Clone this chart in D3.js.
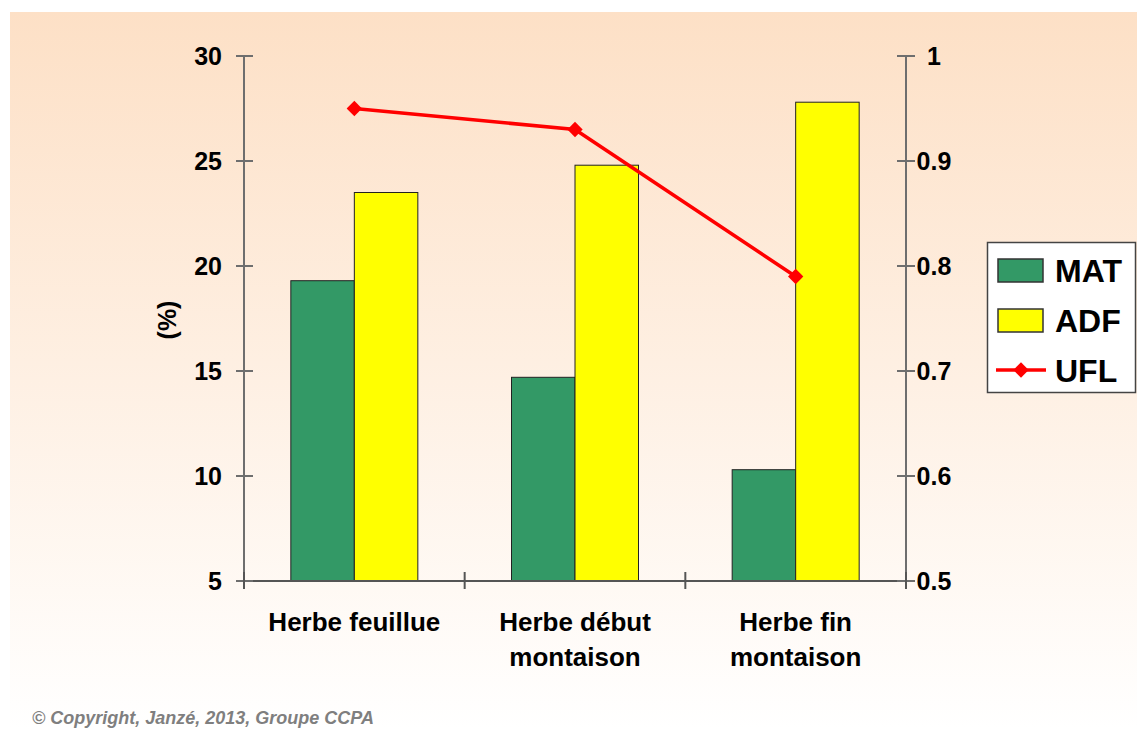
<!DOCTYPE html>
<html>
<head>
<meta charset="utf-8">
<script src="https://cdn.jsdelivr.net/npm/d3@7"></script>
<style>
  body { margin: 0; }
  text { font-family: "Liberation Sans", Arial, sans-serif; font-weight: bold; }
</style>
</head>
<body>
<script>
var categories = [ ["Herbe feuillue"], ["Herbe début", "montaison"], ["Herbe fin", "montaison"] ];
var matValues = [ 19.3, 14.7, 10.3 ];
var adfValues = [ 23.5, 24.8, 27.8 ];
var uflValues = [ 0.95, 0.93, 0.79 ];
var leftTicks = [ 5, 10, 15, 20, 25, 30 ];
var rightTicks = [ 0.5, 0.6, 0.7, 0.8, 0.9, 1 ];

var W = 1137, H = 729;
var plotL = 244, plotR = 906, plotT = 56, plotB = 581;

var svg = d3.select( "body" ).append( "svg" )
  .attr( "width", W )
  .attr( "height", H );

// background: white page, peach -> white gradient panel
svg.append( "rect" ).attr( "width", W ).attr( "height", H ).attr( "fill", "#ffffff" );
var grad = svg.append( "defs" ).append( "linearGradient" )
  .attr( "id", "bg" ).attr( "x1", 0 ).attr( "y1", 0 ).attr( "x2", 0 ).attr( "y2", 1 );
grad.append( "stop" ).attr( "offset", "0%" ).attr( "stop-color", "#fde0c6" );
grad.append( "stop" ).attr( "offset", "100%" ).attr( "stop-color", "#ffffff" );
svg.append( "rect" ).attr( "x", 10 ).attr( "y", 12 )
  .attr( "width", W - 10 ).attr( "height", H - 12 ).attr( "fill", "url(#bg)" );

var idx = d3.range( categories.length );
var x = d3.scaleBand().domain( idx ).range( [ plotL, plotR ] ).paddingInner( 0 ).paddingOuter( 0 );
var yL = d3.scaleLinear().domain( [ 5, 30 ] ).range( [ plotB, plotT ] );
var yR = d3.scaleLinear().domain( [ 0.5, 1 ] ).range( [ plotB, plotT ] );
var barW = 63.5;

// bars
svg.selectAll( "rect.mat" )
  .data( matValues )
  .enter().append( "rect" )
  .attr( "class", "mat" )
  .attr( "x", function ( d, i ) { return x( i ) + x.bandwidth() / 2 - barW; } )
  .attr( "y", function ( d ) { return yL( d ); } )
  .attr( "width", barW )
  .attr( "height", function ( d ) { return plotB - yL( d ); } )
  .attr( "fill", "#339966" )
  .attr( "stroke", "#222" )
  .attr( "stroke-width", 1 );

svg.selectAll( "rect.adf" )
  .data( adfValues )
  .enter().append( "rect" )
  .attr( "class", "adf" )
  .attr( "x", function ( d, i ) { return x( i ) + x.bandwidth() / 2; } )
  .attr( "y", function ( d ) { return yL( d ); } )
  .attr( "width", barW )
  .attr( "height", function ( d ) { return plotB - yL( d ); } )
  .attr( "fill", "#ffff00" )
  .attr( "stroke", "#222" )
  .attr( "stroke-width", 1 );

// axes lines
var axisColor = "#6e6e6e";
svg.append( "line" ).attr( "x1", plotL ).attr( "x2", plotL ).attr( "y1", plotT ).attr( "y2", plotB )
  .attr( "stroke", axisColor ).attr( "stroke-width", 2 );
svg.append( "line" ).attr( "x1", plotR ).attr( "x2", plotR ).attr( "y1", plotT ).attr( "y2", plotB )
  .attr( "stroke", axisColor ).attr( "stroke-width", 2 );
svg.append( "line" ).attr( "x1", plotL ).attr( "x2", plotR ).attr( "y1", plotB ).attr( "y2", plotB )
  .attr( "stroke", "#555" ).attr( "stroke-width", 2 );

// left ticks
svg.selectAll( "line.lt" )
  .data( leftTicks )
  .enter().append( "line" )
  .attr( "x1", plotL - 8 ).attr( "x2", plotL + 9 )
  .attr( "y1", function ( d ) { return yL( d ); } )
  .attr( "y2", function ( d ) { return yL( d ); } )
  .attr( "stroke", axisColor ).attr( "stroke-width", 2 );
svg.selectAll( "text.lt" )
  .data( leftTicks )
  .enter().append( "text" )
  .attr( "x", 222 )
  .attr( "y", function ( d ) { return yL( d ) + 9; } )
  .attr( "text-anchor", "end" )
  .attr( "font-size", 25 )
  .text( function ( d ) { return d; } );

// right ticks
svg.selectAll( "line.rt" )
  .data( rightTicks )
  .enter().append( "line" )
  .attr( "x1", plotR - 9 ).attr( "x2", plotR + 9 )
  .attr( "y1", function ( d ) { return yR( d ); } )
  .attr( "y2", function ( d ) { return yR( d ); } )
  .attr( "stroke", axisColor ).attr( "stroke-width", 2 );
svg.selectAll( "text.rt" )
  .data( rightTicks )
  .enter().append( "text" )
  .attr( "x", 934 )
  .attr( "y", function ( d ) { return yR( d ) + 9; } )
  .attr( "text-anchor", "middle" )
  .attr( "font-size", 25 )
  .text( function ( d ) { return d; } );

// category ticks
svg.selectAll( "line.ct" )
  .data( d3.range( categories.length + 1 ) )
  .enter().append( "line" )
  .attr( "x1", function ( d ) { return plotL + d * x.bandwidth(); } )
  .attr( "x2", function ( d ) { return plotL + d * x.bandwidth(); } )
  .attr( "y1", plotB - 9 ).attr( "y2", plotB + 8 )
  .attr( "stroke", "#555" ).attr( "stroke-width", 2 );

// category labels
svg.selectAll( "text.cat" )
  .data( categories )
  .enter().append( "text" )
  .attr( "class", "cat" )
  .attr( "text-anchor", "middle" )
  .attr( "font-size", 26 )
  .each( function ( d, i ) {
    d3.select( this ).selectAll( "tspan" )
      .data( d )
      .enter().append( "tspan" )
      .attr( "x", x( i ) + x.bandwidth() / 2 )
      .attr( "y", function ( t, j ) { return 631 + j * 35; } )
      .text( function ( t ) { return t; } );
  } );

// y title
svg.append( "text" )
  .attr( "transform", "translate(176,320) rotate(-90)" )
  .attr( "text-anchor", "middle" )
  .attr( "font-size", 25 )
  .text( "(%)" );

// UFL line
var line = d3.line()
  .x( function ( d, i ) { return x( i ) + x.bandwidth() / 2; } )
  .y( function ( d ) { return yR( d ); } );
svg.append( "path" )
  .datum( uflValues )
  .attr( "d", line )
  .attr( "fill", "none" )
  .attr( "stroke", "#ff0000" )
  .attr( "stroke-width", 3.5 );
svg.selectAll( "path.pt" )
  .data( uflValues )
  .enter().append( "path" )
  .attr( "d", d3.symbol().type( d3.symbolDiamond2 ).size( 150 ) )
  .attr( "transform", function ( d, i ) {
    return "translate(" + ( x( i ) + x.bandwidth() / 2 ) + "," + yR( d ) + ")";
  } )
  .attr( "fill", "#ff0000" );

// legend
var lg = svg.append( "g" );
lg.append( "rect" )
  .attr( "x", 987.5 ).attr( "y", 242.5 ).attr( "width", 148 ).attr( "height", 150 )
  .attr( "fill", "#ffffff" ).attr( "stroke", "#444" ).attr( "stroke-width", 1.5 );
var legendItems = [ { name: "MAT", color: "#339966" }, { name: "ADF", color: "#ffff00" } ];
lg.selectAll( "rect.sw" )
  .data( legendItems )
  .enter().append( "rect" )
  .attr( "x", 998 ).attr( "y", function ( d, i ) { return 259 + i * 50; } )
  .attr( "width", 45 ).attr( "height", 23 )
  .attr( "fill", function ( d ) { return d.color; } )
  .attr( "stroke", "#333" ).attr( "stroke-width", 1.5 );
lg.selectAll( "text.lt" )
  .data( legendItems.map( function ( d ) { return d.name; } ).concat( [ "UFL" ] ) )
  .enter().append( "text" )
  .attr( "x", 1055 ).attr( "y", function ( d, i ) { return 282 + i * 50; } )
  .attr( "font-size", 32 )
  .text( function ( d ) { return d; } );
lg.append( "line" )
  .attr( "x1", 996 ).attr( "x2", 1046 ).attr( "y1", 370 ).attr( "y2", 370 )
  .attr( "stroke", "#ff0000" ).attr( "stroke-width", 3.5 );
lg.append( "path" )
  .attr( "d", d3.symbol().type( d3.symbolDiamond2 ).size( 150 ) )
  .attr( "transform", "translate(1021,370)" )
  .attr( "fill", "#ff0000" );

// copyright
svg.append( "text" )
  .attr( "x", 32 ).attr( "y", 724 )
  .attr( "font-size", 18 )
  .attr( "font-style", "italic" )
  .attr( "fill", "#7f7f7f" )
  .text( "© Copyright, Janzé, 2013, Groupe CCPA" );
</script>
</body>
</html>
